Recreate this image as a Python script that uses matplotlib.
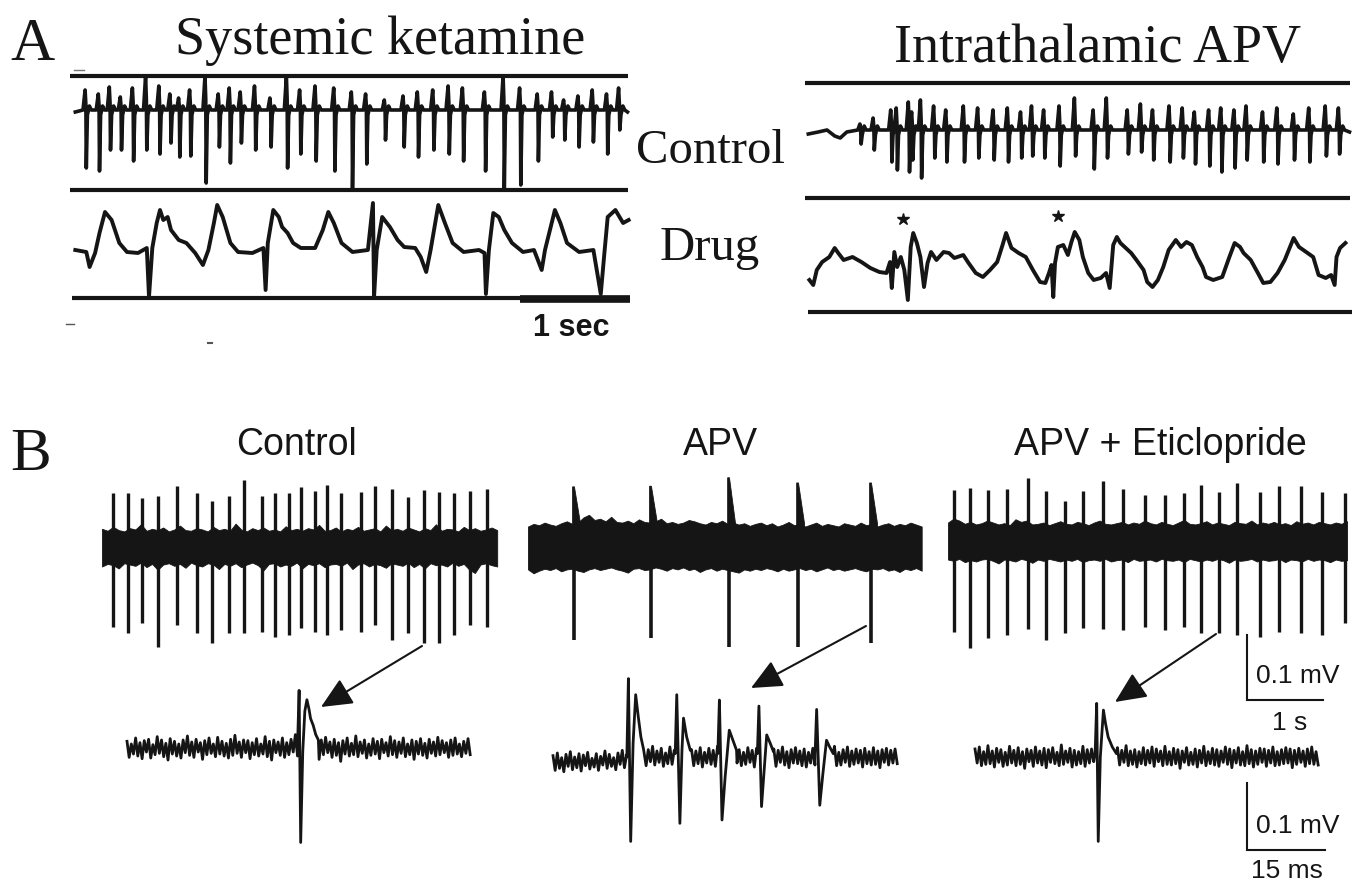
import numpy as np
import matplotlib
matplotlib.use("Agg")
import matplotlib.pyplot as plt
from matplotlib.patches import FancyArrowPatch

# ---------------------------------------------------------------- data
# Panel A, systemic ketamine, control: spike-wave discharge (t in s, a.u.)
ak_ctrl_t = [0.13, 0.25, 0.35, 0.45, 0.56, 0.68, 0.80, 0.90, 0.98, 1.08, 1.22, 1.34, 1.44,
             1.54, 1.67, 1.81, 1.96, 2.08, 2.22, 2.39, 2.55, 2.68, 2.85, 3.02, 3.15, 3.29,
             3.43, 3.56, 3.76, 3.93, 4.08, 4.24, 4.37, 4.48, 4.61, 4.74, 4.87, 4.98]
ak_ctrl_up = [22, 18, 25, 15, 24, 36, 26, 18, 14, 22, 36, 18, 24, 20, 26, 14, 36, 22, 26,
              24, 20, 18, 12, 16, 20, 22, 26, 24, 20, 36, 24, 18, 20, 12, 16, 22, 18, 24]
ak_ctrl_down = [56, 59, 38, 38, 49, 38, 42, 31, 45, 44, 71, 35, 51, 31, 38, 35, 56, 42, 49,
                59, 76, 52, 28, 35, 45, 38, 42, 49, 59, 76, 73, 49, 25, 28, 35, 30, 42, 18]

# Panel A, systemic ketamine, drug: slow waves (t in s, a.u.)
ak_drug_t = [0.03, 0.13, 0.16, 0.21, 0.25, 0.30, 0.36, 0.43, 0.50, 0.60, 0.68, 0.70, 0.73,
             0.77, 0.80, 0.83, 0.87, 0.90, 0.97, 1.04, 1.12, 1.19, 1.24, 1.29, 1.32, 1.37,
             1.44, 1.51, 1.64, 1.74, 1.76, 1.78, 1.83, 1.88, 1.91, 1.96, 2.01, 2.08, 2.21,
             2.28, 2.33, 2.38, 2.45, 2.55, 2.69, 2.736, 2.746, 2.77, 2.82, 2.89, 2.96, 3.02,
             3.12, 3.17, 3.22, 3.26, 3.33, 3.39, 3.46, 3.56, 3.70, 3.75, 3.763, 3.79, 3.83,
             3.88, 3.93, 4.00, 4.10, 4.20, 4.27, 4.30, 4.39, 4.44, 4.50, 4.61, 4.74, 4.807,
             4.84, 4.87, 4.94, 5.01, 5.06]
ak_drug_a = [0, -2, -17, -3, 17, 38, 30, 7, -2, -3, 2, -47, 2, 27, 40, 30, 33, 20, 10, 7,
             -3, -15, 0, 27, 45, 33, 7, -2, -3, 2, -40, 7, 40, 33, 23, 17, 7, 2, 2, 20, 38,
             27, 7, -2, 0, 47, -47, 0, 33, 23, 10, 3, 2, -7, -22, 0, 45, 27, 7, -2, 0, -3,
             -44, 0, 37, 33, 20, 7, -2, 0, -20, 0, 40, 27, 7, -2, 0, -44, -3, 33, 40, 27, 30]

# Panel A, intrathalamic APV, control
ap_ctrl_pre_t = [0.03, 0.12, 0.20, 0.27, 0.32, 0.38]
ap_ctrl_pre_a = [-2, 0, 2, -4, -6, 0]
ap_ctrl_t = [0.51, 0.63, 0.79, 0.84, 0.95, 0.98, 1.06, 1.18, 1.29, 1.45, 1.58, 1.72, 1.85,
             1.97, 2.07, 2.18, 2.32, 2.46, 2.63, 2.75, 2.94, 3.06, 3.17, 3.32, 3.44, 3.55,
             3.68, 3.79, 3.91, 4.02, 4.17, 4.30, 4.45, 4.59, 4.74, 4.86]
ap_ctrl_up = [8, 14, 22, 24, 30, 20, 32, 26, 22, 26, 24, 22, 24, 20, 26, 22, 26, 34, 22,
              34, 22, 28, 22, 26, 24, 20, 22, 24, 22, 26, 20, 24, 18, 24, 26, 24]
ap_ctrl_down = [12, 18, 30, 38, 40, 28, 46, 26, 30, 30, 26, 28, 30, 26, 24, 26, 34, 24, 37,
                26, 22, 20, 28, 30, 26, 32, 34, 40, 36, 28, 30, 32, 28, 30, 24, 22]

# Panel A, intrathalamic APV, drug
ap_drug_t = [0.04, 0.075, 0.107, 0.156, 0.221, 0.27, 0.302, 0.351, 0.432, 0.513, 0.594,
             0.676, 0.741, 0.773, 0.789, 0.812, 0.838, 0.871, 0.903, 0.935, 0.961, 0.984,
             1.017, 1.049, 1.082, 1.114, 1.146, 1.195, 1.26, 1.309, 1.358, 1.439, 1.487,
             1.552, 1.617, 1.682, 1.747, 1.796, 1.828, 1.877, 1.942, 2.007, 2.072, 2.137,
             2.185, 2.218, 2.241, 2.257, 2.273, 2.299, 2.348, 2.39, 2.422, 2.452, 2.494,
             2.526, 2.575, 2.624, 2.689, 2.737, 2.77, 2.802, 2.835, 2.867, 2.916, 2.965,
             3.013, 3.078, 3.111, 3.159, 3.208, 3.257, 3.306, 3.371, 3.419, 3.468, 3.517,
             3.565, 3.614, 3.646, 3.711, 3.793, 3.858, 3.906, 3.955, 3.987, 4.052, 4.117,
             4.166, 4.231, 4.296, 4.361, 4.409, 4.442, 4.491, 4.556, 4.62, 4.669, 4.734,
             4.783, 4.815, 4.832, 4.864, 4.913]
ap_drug_a = [-10, -15, 0, 8, 13, 22, 17, 10, 13, 8, 2, -2, -3, 8, -18, 18, 3, 13, 0, -30,
             23, 37, 27, 13, -17, 7, 18, 10, 18, 17, 12, 15, 7, -3, -7, 0, 8, 25, 37, 22,
             17, 13, 0, -12, -13, -3, 5, -27, 7, 23, 25, 15, 28, 38, 30, 13, -3, -10, -8,
             -3, -18, 25, 33, 27, 22, 17, 10, 0, -12, -17, -10, 3, 20, 30, 23, 28, 25, 13,
             3, -7, -10, -7, 13, 27, 23, 17, 10, -3, -13, -12, -3, 10, 23, 32, 23, 18, 13,
             -5, -8, -5, -15, 13, 22, 27]
ap_star_t = [0.89, 2.30]
ap_star_a = [51, 54]

# Panel B, upper traces (t in s, mV; band envelopes in uV)
b_ctrl_t = [0.145, 0.342, 0.526, 0.737, 0.987, 1.25, 1.447, 1.671, 1.868, 2.105, 2.276,
            2.461, 2.618, 2.803, 2.961, 3.145, 3.408, 3.592, 3.816, 4.026, 4.237, 4.434,
            4.632, 4.842, 5.066]
b_ctrl_up = [0.083, 0.083, 0.075, 0.078, 0.094, 0.083, 0.071, 0.078, 0.103, 0.078, 0.083,
             0.083, 0.092, 0.086, 0.095, 0.083, 0.085, 0.094, 0.089, 0.077, 0.088, 0.085,
             0.083, 0.086, 0.089]
b_ctrl_down = [0.123, 0.132, 0.117, 0.154, 0.120, 0.132, 0.148, 0.132, 0.132, 0.131,
               0.138, 0.135, 0.125, 0.131, 0.135, 0.128, 0.131, 0.120, 0.143, 0.132, 0.148,
               0.148, 0.135, 0.120, 0.123]
b_ctrl_band_hi = [28, 25, 31, 26, 24, 29, 27, 35, 25, 28, 26, 30, 24, 27, 33, 26, 25, 29,
                  27, 24, 31, 26, 28, 25, 36, 27, 24, 29, 26, 30, 25, 27, 24, 32, 26, 28,
                  25, 29, 27, 34, 25, 26, 30, 24, 28, 26, 31, 25, 27, 29, 24, 33, 26, 28,
                  25, 30, 27, 24, 29, 26, 35, 25, 28, 27, 24, 31, 26, 29, 25, 27, 30, 26]
b_ctrl_band_lo = [30, 26, 28, 33, 25, 27, 29, 24, 31, 26, 35, 27, 25, 29, 26, 32, 24, 28,
                  30, 25, 27, 34, 26, 29, 25, 31, 27, 24, 28, 36, 26, 25, 30, 27, 29, 24,
                  33, 26, 28, 25, 31, 27, 26, 29, 24, 34, 27, 25, 30, 26, 28, 32, 25, 27,
                  29, 24, 31, 26, 33, 25, 28, 27, 30, 24, 29, 26, 35, 40, 27, 25, 28, 30]

b_apv_t = [0.605, 1.618, 2.645, 3.553, 4.513]
b_apv_up = [0.091, 0.092, 0.105, 0.097, 0.097]
b_apv_down = [0.145, 0.142, 0.155, 0.155, 0.149]
b_apv_band_hi = [30, 34, 32, 36, 33, 31, 35, 38, 34, 36, 44, 48, 40, 42, 38, 45, 37, 36,
                 39, 35, 41, 37, 36, 38, 42, 35, 37, 34, 36, 40, 38, 35, 33, 37, 35, 39,
                 34, 36, 33, 35, 31, 34, 36, 32, 35, 30, 33, 37, 32, 34, 30, 33, 36, 31,
                 34, 32, 30, 35, 33, 31, 36, 32, 34, 30, 33, 35, 31, 34, 32, 36, 33, 30]
b_apv_band_lo = [36, 42, 38, 35, 37, 34, 39, 36, 35, 38, 40, 36, 34, 37, 35, 33, 36, 38,
                 41, 35, 34, 37, 36, 33, 35, 38, 34, 36, 33, 37, 35, 40, 36, 34, 38, 35,
                 37, 39, 41, 36, 38, 35, 37, 34, 36, 39, 35, 38, 36, 34, 37, 35, 39, 36,
                 33, 37, 35, 38, 36, 34, 37, 39, 35, 36, 34, 38, 36, 40, 35, 37, 34, 38]

b_etic_t = [0.079, 0.289, 0.526, 0.776, 1.053, 1.289, 1.539, 1.776, 2.039, 2.303, 2.592,
            2.855, 3.105, 3.329, 3.566, 3.803, 4.105, 4.355, 4.645, 4.921, 5.224]
b_etic_up = [0.080, 0.083, 0.080, 0.082, 0.098, 0.078, 0.063, 0.078, 0.094, 0.082, 0.072,
             0.072, 0.075, 0.088, 0.077, 0.091, 0.077, 0.086, 0.086, 0.077, 0.075]
b_etic_down = [0.138, 0.163, 0.148, 0.143, 0.134, 0.151, 0.140, 0.132, 0.134, 0.135,
               0.131, 0.135, 0.131, 0.140, 0.140, 0.143, 0.146, 0.138, 0.140, 0.143, 0.125]
b_etic_band_hi = [30, 36, 33, 28, 31, 27, 29, 33, 30, 27, 29, 26, 35, 31, 33, 27, 28, 30,
                  26, 29, 32, 28, 27, 31, 29, 26, 30, 33, 28, 27, 29, 31, 27, 30, 28, 33,
                  29, 27, 31, 28, 26, 30, 34, 28, 27, 29, 32, 27, 30, 28, 26, 31, 29, 28,
                  33, 27, 30, 28, 31, 27, 29, 26, 32, 28, 30, 27, 31, 29, 27, 30, 28, 32]
b_etic_band_lo = [27, 29, 26, 31, 28, 30, 27, 26, 29, 33, 27, 28, 30, 26, 28, 32, 27, 29,
                  26, 28, 30, 27, 29, 26, 31, 28, 27, 29, 26, 30, 28, 27, 31, 26, 29, 28,
                  27, 30, 26, 28, 29, 27, 31, 26, 28, 30, 27, 29, 26, 28, 32, 27, 29, 28,
                  26, 30, 27, 29, 28, 26, 31, 27, 28, 30, 26, 29, 27, 28, 31, 27, 29, 28]

# Panel B, lower traces: single units (t in ms, mV; noise in uV)
u_ctrl_noise = [10, -14, 6, -9, 15, -12, 8, -16, 11, -6, 13, -15, 5, -10, 17, -8, 12, -13, 7, -18,
                14, -9, 10, -12, 6, -15, 12, -7, 18, -11, 9, -14, 13, -6, 8, -17, 11, -10, 15, -8,
                6, -13, 16, -9, 10, -12, 7, -15, 13, -11, 19, -8, 9, -14, 12, -7, 11, -16, 8, -10,
                14, -12, 6, -9, 17, -13, 10, -18, 12, -7, 9, -11, 15, -14, 8, -10, 13, -6, 20, -12,
                7, -15, 11, -9, 14, -8, 10, -13, 6, -17, 12, -10, 16, -7, 9, -14, 13, -11, 8, -20,
                11, -9, 15, -12, 7, -10, 18, -13, 9, -8, 12, -15, 6, -11, 14, -9, 10, -16, 13, -7,
                8, -12, 17, -10, 11, -14, 9, -8, 15, -13, 6, -10, 12, -17, 10, -9, 14, -11, 7, -15,
                13, -8, 9, -12, 16, -10, 11, -7, 8, -14, 12, -11, 15, -9, 6, -13, 10, -8, 14, -10]
u_ctrl_spk_t = [32.8, 33.1, 33.4, 33.8, 34.2, 34.6, 35.0, 35.3, 35.8, 36.3, 36.8]
u_ctrl_spk_v = [0.005, 0.086, -0.141, -0.005, 0.055, 0.072, 0.058, 0.044, 0.034, 0.02, 0.012]

u_apv_noise = [2, -20, 6, -17, -1, -22, 4, -14, 8, -19, 0, -16, 5, -21, 3, -13, 7, -18, -2, -15,
               5, -20, 1, -12, 9, -17, 4, -14, -1, -19, 6, -11, 10, -16, 3, -13, 12, -9, 7, -15,
               14, -10, 8, -13, 11, -7, 16, -12, 9, -8, 13, -14, 6, -10, 15, -11, 10, -9, 12, -16,
               8, -12, 17, -7, 11, -13, 9, -10, 14, -15, 7, -9, 13, -11, 10, -14, 16, -8, 9, -12,
               12, -17, 8, -10, 15, -9, 11, -13, 7, -11, 14, -8, 10, -15, 13, -12, 9, -10, 17, -13,
               6, -11, 12, -14, 10, -8, 15, -12, 8, -16, 11, -9, 14, -10, 9, -13, 12, -15, 7, -9,
               13, -12, 10, -17, 8, -11, 14, -9, 12, -10, 16, -13, 7, -12, 11, -8, 15, -14, 9, -11,
               12, -9, 10, -15, 13, -10, 8, -12, 14, -11, 9, -16, 11, -8, 13, -12, 10, -9, 12, -10]
u_apv_spk_t = [[14.2, 14.5, 14.94, 15.4, 15.9, 16.4, 16.9, 17.4],
               [23.5, 23.8, 24.4, 24.8, 25.1, 25.7, 26.4],
               [31.7, 32.0, 32.5, 33.1, 33.9, 34.6, 35.3],
               [39.3, 39.6, 40.1, 40.6, 41.1, 41.8, 42.4],
               [50.4, 50.7, 51.3, 51.9, 52.6, 53.2, 53.9]]
u_apv_spk_v = [[0.0, 0.117, -0.126, 0.02, 0.093, 0.06, 0.03, 0.012],
               [0.005, 0.093, -0.099, 0.01, 0.058, 0.03, 0.01],
               [0.005, 0.085, -0.094, -0.03, 0.04, 0.025, 0.01],
               [0.005, 0.076, -0.074, -0.02, 0.033, 0.02, 0.008],
               [0.005, 0.071, -0.072, -0.025, 0.025, 0.015, 0.005]]

u_etic_noise = [12, -9, 15, -13, 8, -11, 17, -10, 9, -15, 13, -8, 11, -14, 7, -12, 16, -9, 10, -13,
                14, -11, 8, -17, 12, -7, 10, -14, 15, -9, 9, -12, 13, -16, 11, -8, 14, -10, 7, -13,
                18, -11, 9, -8, 13, -15, 10, -12, 8, -10, 16, -14, 11, -9, 12, -7, 15, -13, 9, -11,
                13, -10, 7, -16, 12, -9, 14, -12, 10, -8, 17, -13, 9, -11, 11, -15, 8, -10, 14, -12,
                10, -9, 15, -14, 12, -7, 9, -13, 16, -11, 8, -12, 13, -10, 11, -17, 9, -8, 14, -12,
                7, -11, 12, -15, 10, -9, 16, -13, 8, -10, 13, -12, 11, -14, 9, -8, 15, -11, 12, -16,
                10, -9, 14, -12, 8, -13, 17, -10, 11, -15, 9, -11, 13, -8, 12, -14, 10, -9, 15, -13,
                8, -12, 11, -10, 14, -9, 12, -16, 10, -11, 13, -8, 9, -14, 12, -10, 15, -11, 8, -12]
u_etic_spk_t = [23.1, 23.4, 23.7, 24.1, 24.7, 25.1, 25.6, 26.4, 27.2]
u_etic_spk_v = [0.005, 0.080, -0.126, 0.0, 0.070, 0.05, 0.03, 0.015, 0.005]

panel_titles_B = ["Control", "APV", "APV + Eticlopride"]

# ---------------------------------------------------------------- figure
W, H = 1358, 884
INK = "#151515"
SERIF = ["Liberation Serif", "DejaVu Serif"]
SANS = ["Liberation Sans", "DejaVu Sans"]

fig = plt.figure(figsize=(W / 100, H / 100), dpi=100)
fig.patch.set_facecolor("white")


def trace_axes(ox, oy, sx, sy):
    """Transparent full-figure axes: data origin at pixel (ox, oy),
    sx pixels per x unit, sy pixels per y unit."""
    ax = fig.add_axes([0, 0, 1, 1])
    ax.set_xlim(-ox / sx, (W - ox) / sx)
    ax.set_ylim(-(H - oy) / sy, oy / sy)
    ax.axis("off")
    ax.patch.set_alpha(0)
    return ax


def spike_wave(pre_t, pre_a, times, ups, downs, t_end):
    xs, ys = list(pre_t), list(pre_a)
    for t, u, d in zip(times, ups, downs):
        xs += [t - 0.03, t - 0.011, t - 0.004, t, t + 0.01, t + 0.028, t + 0.045]
        ys += [2, u, u * 0.35, -d, -3, 6, 2]
    xs.append(t_end)
    ys.append(0)
    return xs, ys


def unit_trace(noise, t_end, spk_t, spk_v):
    tt = np.linspace(0, t_end, len(noise))
    vv = np.array(noise) / 1000.0
    xs, ys = [], []
    windows = sorted(zip(spk_t, spk_v), key=lambda w: w[0][0])
    k = 0
    for t, v in zip(tt, vv):
        while k < len(windows) and t > windows[k][0][0]:
            xs += list(windows[k][0])
            ys += list(windows[k][1])
            k += 1
        if any(w[0][0] <= t <= w[0][-1] for w in windows):
            continue
        xs.append(t)
        ys.append(v)
    return xs, ys


# ---------- Panel A, left (systemic ketamine)
S_A = 110.0  # px per second
axL1 = trace_axes(72, 112, S_A, 1.0)
axL2 = trace_axes(72, 250, S_A, 1.0)
axL1.hlines([36, -78], -0.02, 5.05, color=INK, lw=3.0)
axL2.hlines(-48, 0.0, 5.07, color=INK, lw=3.0)
axL2.hlines(-49, 4.07, 5.07, color=INK, lw=5.5)
x, y = spike_wave([0.03], [0], ak_ctrl_t, ak_ctrl_up, ak_ctrl_down, 5.05)
axL1.plot(x, y, color=INK, lw=2.6, solid_joinstyle="round")
axL2.plot(ak_drug_t, ak_drug_a, color=INK, lw=2.8, solid_joinstyle="round")

# ---------- Panel A, right (intrathalamic APV)
axR1 = trace_axes(805, 132, S_A, 1.0)
axR2 = trace_axes(805, 270, S_A, 1.0)
axR1.hlines([49, -66], 0.0, 4.95, color=INK, lw=3.0)
axR2.hlines(-42, 0.03, 4.97, color=INK, lw=3.0)
x, y = spike_wave(ap_ctrl_pre_t, ap_ctrl_pre_a, ap_ctrl_t, ap_ctrl_up, ap_ctrl_down, 4.95)
axR1.plot(x, y, color=INK, lw=2.6, solid_joinstyle="round")
axR2.plot(ap_drug_t, ap_drug_a, color=INK, lw=2.8, solid_joinstyle="round")
axR2.plot(ap_star_t, ap_star_a, ls="none", marker="*", ms=9, color=INK)

# ---------- Panel B, upper traces
S_T, S_V = 76.0, 650.0  # px per s, px per mV
bc = trace_axes(102, 547, S_T, S_V)
ba = trace_axes(528, 546, S_T, S_V)
be = trace_axes(948, 542, S_T, S_V)
for ax, t_end, hi, lo in [(bc, 5.2, b_ctrl_band_hi, b_ctrl_band_lo),
                          (ba, 5.18, b_apv_band_hi, b_apv_band_lo),
                          (be, 5.25, b_etic_band_hi, b_etic_band_lo)]:
    tt = np.linspace(0, t_end, len(hi))
    ax.fill_between(tt, -np.array(lo) / 1000.0, np.array(hi) / 1000.0,
                    color=INK, lw=0.6)
bc.vlines(b_ctrl_t, -np.array(b_ctrl_down), b_ctrl_up, color=INK, lw=2.4)
be.vlines(b_etic_t, -np.array(b_etic_down), b_etic_up, color=INK, lw=2.4)
ba.vlines(b_apv_t, -np.array(b_apv_down), 0, color=INK, lw=2.6)
for t, u in zip(b_apv_t, b_apv_up):
    ba.fill([t - 0.018, t - 0.018, t + 0.006, t + 0.085, t + 0.085],
            [0.0, u, u, 0.035, 0.0], color=INK, lw=0.6)

# scale bar (0.1 mV, 1 s)
be.plot([3.93, 3.93, 4.93], [-0.143, -0.243, -0.243], color=INK, lw=1.5,
        solid_joinstyle="miter", clip_on=False)

# ---------- Panel B, lower traces
S_MS, S_UV = 5.2, 670.0  # px per ms, px per mV
uc = trace_axes(127, 748, S_MS, S_UV)
ua = trace_axes(553, 757, S_MS, S_UV)
ue = trace_axes(975, 757, S_MS, S_UV)
x, y = unit_trace(u_ctrl_noise, 66.0, [u_ctrl_spk_t], [u_ctrl_spk_v])
uc.plot(x, y, color=INK, lw=2.0)
x, y = unit_trace(u_apv_noise, 66.2, u_apv_spk_t, u_apv_spk_v)
ua.plot(x, y, color=INK, lw=2.0)
x, y = unit_trace(u_etic_noise, 66.0, [u_etic_spk_t], [u_etic_spk_v])
ue.plot(x, y, color=INK, lw=2.0)
ue.plot([52.3, 52.3, 67.3], [-0.039, -0.139, -0.139], color=INK, lw=1.5,
        solid_joinstyle="miter", clip_on=False)

# ---------- overlay in pixel coordinates: text and arrows
ov = fig.add_axes([0, 0, 1, 1])
ov.set_xlim(0, W)
ov.set_ylim(H, 0)
ov.axis("off")
ov.patch.set_alpha(0)

ov.text(10, 60, "A", family=SERIF, fontsize=44, color=INK, va="baseline", ha="left")
ov.text(10, 470, "B", family=SERIF, fontsize=44, color=INK, va="baseline", ha="left")
ov.text(380, 54, "Systemic ketamine", family=SERIF, fontsize=39, color=INK,
        ha="center", va="baseline")
ov.text(1098, 62, "Intrathalamic APV", family=SERIF, fontsize=39, color=INK,
        ha="center", va="baseline")
ov.text(710, 163, "Control", family=SERIF, fontsize=35, color=INK,
        ha="center", va="baseline")
ov.text(710, 260, "Drug", family=SERIF, fontsize=35, color=INK,
        ha="center", va="baseline")
ov.text(571, 336, "1 sec", family=SANS, fontsize=22, fontweight="bold", color=INK,
        ha="center", va="baseline")
ov.plot([66, 74], [324, 324], color="#555555", lw=1)
ov.plot([208, 212], [343, 343], color="#555555", lw=1.5)
ov.plot([74, 84], [70, 70], color="#777777", lw=1)

for xc, title in zip([297, 720, 1160], panel_titles_B):
    ov.text(xc, 455, title, family=SANS, fontsize=27, color=INK,
            ha="center", va="baseline")

ov.text(1256, 683, "0.1 mV", family=SANS, fontsize=19, color=INK, ha="left", va="baseline")
ov.text(1290, 730, "1 s", family=SANS, fontsize=19, color=INK, ha="center", va="baseline")
ov.text(1256, 833, "0.1 mV", family=SANS, fontsize=19, color=INK, ha="left", va="baseline")
ov.text(1287, 878, "15 ms", family=SANS, fontsize=19, color=INK, ha="center", va="baseline")

for (x0, y0), (x1, y1) in [((422, 646), (321, 707)),
                           ((866, 626), (751, 688)),
                           ((1216, 634), (1115, 702))]:
    ov.add_patch(FancyArrowPatch((x0, y0), (x1, y1),
                                 arrowstyle="-|>,head_length=0.48,head_width=0.22",
                                 mutation_scale=40, lw=1.5, color=INK,
                                 shrinkA=0, shrinkB=0))

fig.savefig("out.png", dpi=100, facecolor="white")
